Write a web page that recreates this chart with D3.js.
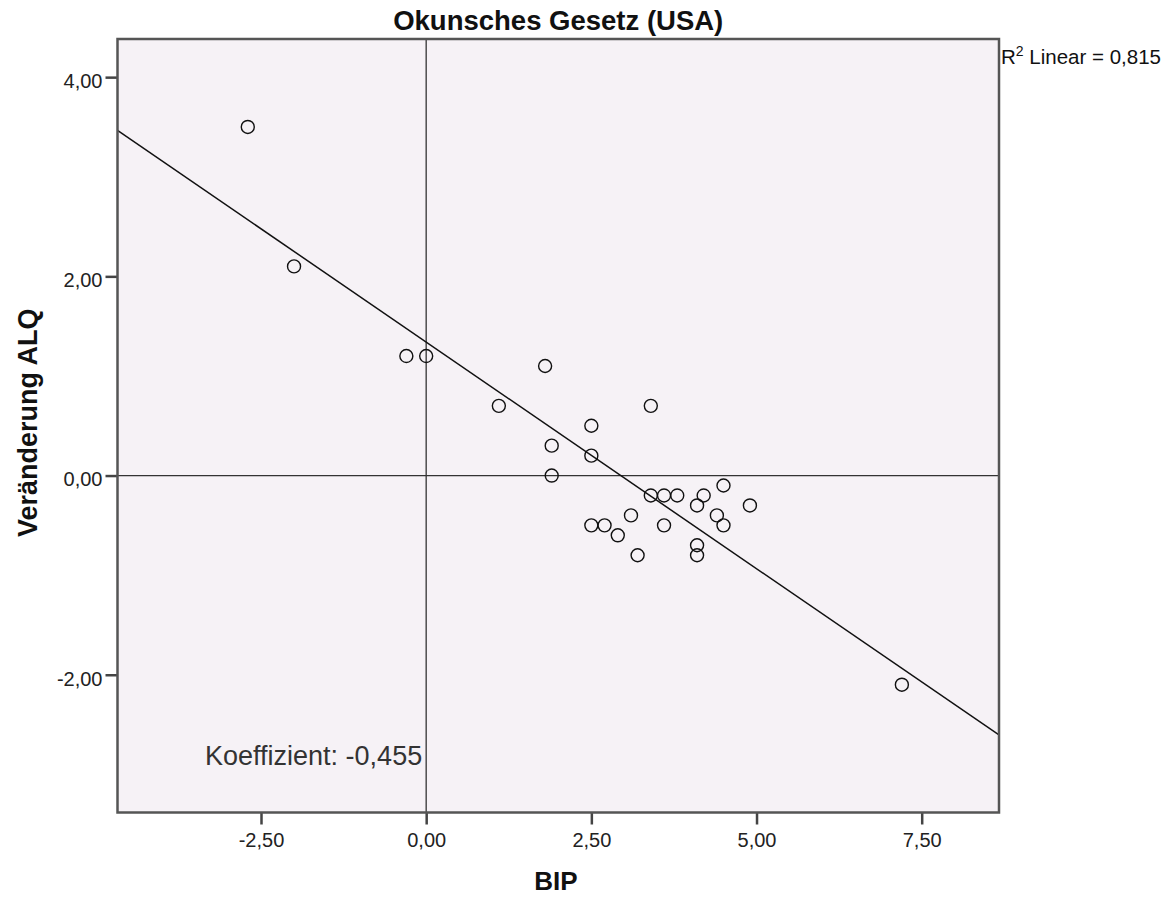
<!DOCTYPE html>
<html><head><meta charset="utf-8">
<script src="https://cdn.jsdelivr.net/npm/d3@7"></script>
<style>
html,body{margin:0;padding:0;background:#fff;}
svg{display:block;}
text{font-family:"Liberation Sans",Arial,sans-serif;}
</style></head>
<body>
<svg id="chart" width="1165" height="897"></svg>
<script>
// Data (BIP growth vs. change in unemployment rate)
const bip = [-2.7,-2.0,-0.3,0.0,1.1,1.8,1.9,1.9,2.5,2.5,2.5,2.7,2.9,3.1,3.2,3.4,3.4,3.6,3.6,3.8,4.1,4.1,4.1,4.2,4.4,4.5,4.5,4.9,7.2];
const alq = [3.5,2.1,1.2,1.2,0.7,1.1,0.3,0.0,0.5,0.2,-0.5,-0.5,-0.6,-0.4,-0.8,0.7,-0.2,-0.2,-0.5,-0.2,-0.3,-0.7,-0.8,-0.2,-0.4,-0.1,-0.5,-0.3,-2.1];
const xTickValues = [-2.5, 0, 2.5, 5, 7.5];
const yTickValues = [-2, 0, 2, 4];
const fitIntercept = 1.34;
const fitSlope = -0.455;
const titleText = "Okunsches Gesetz (USA)";
const xTitle = "BIP";
const yTitle = "Veränderung ALQ";
const coefText = "Koeffizient: -0,455";
const r2Value = "0,815";

const svg = d3.select("#chart");
const L = 117.5, R = 999, T = 39, B = 812.5;
const x = d3.scaleLinear().domain([-4.672, 8.67]).range([L, R]);
const y = d3.scaleLinear().domain([-3.383, 4.383]).range([B, T]);
const de = d3.formatLocale({decimal: ",", thousands: ".", grouping: [3], currency: ["", "€"], minus: "-"});
const fmt = de.format(".2f");

// plot background
svg.append("rect").attr("x", L).attr("y", T).attr("width", R - L).attr("height", B - T)
  .attr("fill", "#f6f2f6");

const g = svg.append("g");
svg.append("clipPath").attr("id", "clip").append("rect")
  .attr("x", L).attr("y", T).attr("width", R - L).attr("height", B - T);

// reference lines at 0
g.append("line").attr("x1", x(0)).attr("x2", x(0)).attr("y1", T).attr("y2", B)
  .attr("stroke", "#333").attr("stroke-width", 1.3);
g.append("line").attr("x1", L).attr("x2", R).attr("y1", y(0)).attr("y2", y(0))
  .attr("stroke", "#333").attr("stroke-width", 1.3);

// regression line
const [x0, x1] = x.domain();
g.append("line").attr("clip-path", "url(#clip)")
  .attr("x1", x(x0)).attr("y1", y(fitIntercept + fitSlope * x0))
  .attr("x2", x(x1)).attr("y2", y(fitIntercept + fitSlope * x1))
  .attr("stroke", "#111").attr("stroke-width", 1.5);

// points
g.selectAll("circle.pt").data(bip.map((v, i) => [v, alq[i]])).join("circle")
  .attr("class", "pt")
  .attr("cx", d => x(d[0])).attr("cy", d => y(d[1])).attr("r", 6.5)
  .attr("fill", "none").attr("stroke", "#111").attr("stroke-width", 1.4);

// axes
const xAxis = d3.axisBottom(x).tickValues(xTickValues).tickFormat(fmt).tickSize(12).tickPadding(8);
const yAxis = d3.axisLeft(y).tickValues(yTickValues).tickFormat(fmt).tickSize(12).tickPadding(3);
const gx = svg.append("g").attr("transform", `translate(0,${B})`).call(xAxis);
const gy = svg.append("g").attr("transform", `translate(${L},0)`).call(yAxis);
[gx, gy].forEach(a => {
  a.select(".domain").remove();
  a.selectAll(".tick line").attr("stroke", "#444").attr("stroke-width", 2.5);
  a.selectAll(".tick text").attr("fill", "#222").style("font-size", "20px")
    .style("font-family", "'Liberation Sans', Arial, sans-serif");
});
gy.selectAll(".tick text").attr("dy", "0.52em");

// frame
svg.append("rect").attr("x", L).attr("y", T).attr("width", R - L).attr("height", B - T)
  .attr("fill", "none").attr("stroke", "#555").attr("stroke-width", 2.5);

// title
svg.append("text").attr("x", (L + R) / 2).attr("y", 30).attr("text-anchor", "middle")
  .style("font-size", "27.5px").style("font-weight", "bold").attr("fill", "#111").text(titleText);

// axis titles
svg.append("text").attr("x", 556).attr("y", 890).attr("text-anchor", "middle")
  .style("font-size", "26px").style("font-weight", "bold").attr("fill", "#111").text(xTitle);
svg.append("text").attr("transform", `translate(37,${(T + B) / 2 - 3}) rotate(-90)`)
  .attr("text-anchor", "middle")
  .style("font-size", "27px").style("font-weight", "bold").attr("fill", "#111").text(yTitle);

// R² annotation
const r2 = svg.append("text").attr("x", R + 2).attr("y", 64).attr("fill", "#111").style("font-size", "20.5px");
r2.append("tspan").text("R");
r2.append("tspan").attr("dy", -8).style("font-size", "14px").text("2");
r2.append("tspan").attr("dy", 8).text(" Linear = " + r2Value);

// coefficient annotation
svg.append("text").attr("x", x(0) - 4).attr("y", 765).attr("text-anchor", "end")
  .attr("fill", "#333").style("font-size", "27px").text(coefText);
</script>
</body></html>
